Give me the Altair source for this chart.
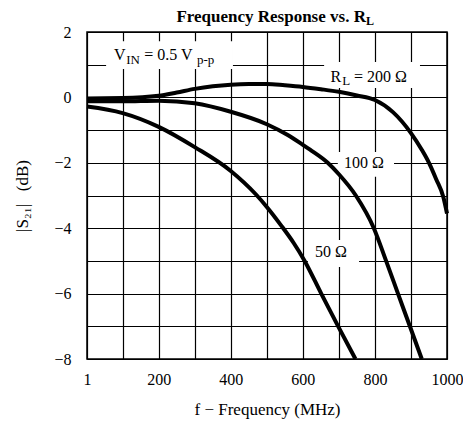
import altair as alt
import pandas as pd

# ---- curve data ----
freq_200 = [1, 100, 200, 250, 300, 350, 400, 450, 500, 550, 600, 650, 700, 750, 800, 850, 900, 930, 950, 970, 990, 1000]
gain_200 = [-0.03, -0.02, 0.05, 0.15, 0.26, 0.34, 0.39, 0.41, 0.41, 0.37, 0.32, 0.25, 0.17, 0.06, -0.08, -0.45, -1.09, -1.6, -2.0, -2.5, -3.05, -3.55]

freq_100 = [1, 100, 200, 300, 400, 500, 558, 600, 620, 669, 700, 747, 797, 831, 864, 897, 930]
gain_100 = [-0.12, -0.12, -0.1, -0.18, -0.44, -0.82, -1.15, -1.45, -1.6, -2.0, -2.35, -3.0, -4.0, -5.0, -6.0, -7.0, -8.0]

freq_50 = [1, 100, 200, 300, 400, 470, 500, 540, 575, 605, 651, 698, 746]
gain_50 = [-0.28, -0.48, -0.9, -1.52, -2.25, -2.97, -3.35, -3.92, -4.46, -5.0, -6.0, -7.0, -8.0]

series_names = ["200", "100", "50"]

x_ticks = [1, 100, 200, 300, 400, 500, 600, 700, 800, 900, 1000]
y_ticks = [-8, -7, -6, -5, -4, -3, -2, -1, 0, 1, 2]

# ---- annotations ----
main_text = ["V", "= 0.5 V", "R", "= 200 Ω", "100 Ω", "50 Ω"]
main_x = [76, 160, 677, 742, 714, 634]
main_y = [1.144, 1.144, 0.48, 0.48, -2.15, -4.87]

sub_text = ["IN", "p-p", "L"]
sub_x = [110, 306, 709]
sub_y = [1.03, 1.02, 0.38]

title_text = ["Frequency Response vs. R"]
title_x = [775]
title_y = [2.321]
title_sub_text = ["L"]
title_sub_x = [775]
title_sub_y = [2.214]

box_x = [54, 659, 697, 614]
box_x2 = [406, 925, 853, 756]
box_y = [1.72, 1.08, -1.67, -4.36]
box_y2 = [0.87, 0.29, -2.43, -5.19]

curves = pd.concat([
    pd.DataFrame({"f": freq_200, "g": gain_200, "s": series_names[0]}),
    pd.DataFrame({"f": freq_100, "g": gain_100, "s": series_names[1]}),
    pd.DataFrame({"f": freq_50, "g": gain_50, "s": series_names[2]}),
])

FONT = "Liberation Serif"
xs = alt.Scale(domain=[1, 1000], nice=False, zero=False)
ys = alt.Scale(domain=[-8, 2], nice=False, zero=False)

x_axis = alt.Axis(
    values=x_ticks, format="d",
    labelExpr="(datum.value == 1 || datum.value % 200 == 0) ? datum.label : ''",
    title="f − Frequency (MHz)",
    grid=True, ticks=False, tickSize=0, domain=False,
    labelPadding=12, labelFontSize=16, labelColor="black", labelFlush=False,
    titleFontSize=17, titleFontWeight="normal", titleColor="black", titleY=42,
    gridColor="black", gridWidth=1.2, gridOpacity=1,
)
y_axis = alt.Axis(
    values=y_ticks,
    labelExpr="datum.value % 2 == 0 ? datum.label : ''",
    title="|S₂₁|\u00a0\u00a0\u00a0(dB)",
    grid=True, ticks=False, tickSize=0, domain=False,
    labelPadding=16, labelFontSize=16, labelColor="black",
    titleFontSize=17, titleFontWeight="normal", titleColor="black", titleX=-56,
    gridColor="black", gridWidth=1.2, gridOpacity=1,
)

X = lambda: alt.X("f:Q", scale=xs, axis=x_axis)
Y = lambda: alt.Y("g:Q", scale=ys, axis=y_axis)

boxes = alt.Chart(pd.DataFrame({"f": box_x, "f2": box_x2, "g": box_y, "g2": box_y2})).mark_rect(
    color="white"
).encode(x=X(), x2="f2:Q", y=Y(), y2="g2:Q")

lines = alt.Chart(curves).mark_line(
    color="black", strokeWidth=4, interpolate="monotone"
).encode(x=X(), y=Y(), detail="s:N")

def text_layer(texts, xv, yv, size, align="left", weight="normal"):
    return alt.Chart(pd.DataFrame({"t": texts, "f": xv, "g": yv})).mark_text(
        font=FONT, fontSize=size, align=align, baseline="alphabetic",
        fontWeight=weight, color="black"
    ).encode(x=X(), y=Y(), text="t:N")

chart = alt.layer(
    boxes,
    lines,
    text_layer(main_text, main_x, main_y, 16),
    text_layer(sub_text, sub_x, sub_y, 13),
    text_layer(title_text, title_x, title_y, 17, align="right", weight="bold"),
    text_layer(title_sub_text, title_sub_x, title_sub_y, 12, weight="bold"),
).properties(
    width=360, height=327,
    autosize=alt.AutoSizeParams(type="none"),
    padding={"left": 79, "top": 24, "right": 16, "bottom": 62},
    background="white",
).configure(font=FONT).configure_view(stroke="black", strokeWidth=1.5)

chart.save("out.html", embed_options={"renderer": "svg", "actions": False})
